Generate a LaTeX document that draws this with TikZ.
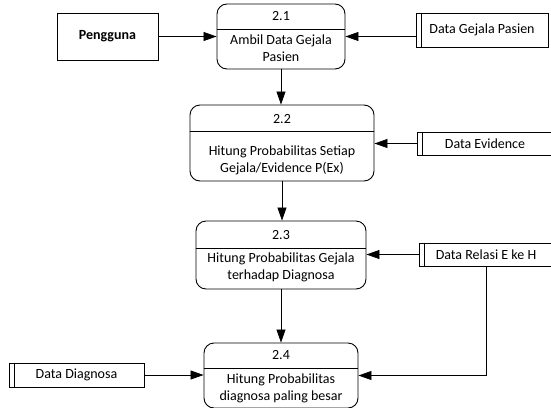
\documentclass[tikz,border=0pt]{standalone}
\usepackage{fontspec}
\setmainfont{Carlito}
\usetikzlibrary{arrows.meta}

\begin{document}
\begin{tikzpicture}[x=1pt, y=-1pt, font=\fontsize{14}{17}\selectfont,
    procbox/.style={draw, rounded corners=10pt, line width=0.9pt, inner sep=0pt},
    storebox/.style={draw, line width=0.9pt, inner sep=0pt},
    entitybox/.style={draw, line width=0.9pt, inner sep=0pt, font=\fontsize{14}{17}\selectfont\bfseries},
    flow/.style={line width=0.7pt, -{Triangle[length=13pt, width=9pt]}}]
    \useasboundingbox (0,0) rectangle (551,407);

    % external entity
    \node[entitybox, minimum width=101pt, minimum height=47pt] (pg) at (107.5,36.5) {Pengguna};

    % processes
    \node[procbox, minimum width=128pt, minimum height=65pt] (p1) at (281,36.5) {};
    \draw[line width=0.9pt] (p1.west |- 0,29) -- (p1.east |- 0,29);
    \node (n1) at (281,16.5) {2.1};
    \node[align=center] (t1) at (281,48) {Ambil Data Gejala\\Pasien};

    \node[procbox, minimum width=184pt, minimum height=76pt] (p2) at (282,143) {};
    \draw[line width=0.9pt] (p2.west |- 0,131) -- (p2.east |- 0,131);
    \node (n2) at (282,119) {2.2};
    \node[align=center] (t2) at (282,160) {Hitung Probabilitas Setiap\\Gejala/Evidence P(Ex)};

    \node[procbox, minimum width=170pt, minimum height=68pt] (p3) at (281,255) {};
    \draw[line width=0.9pt] (p3.west |- 0,248) -- (p3.east |- 0,248);
    \node (n3) at (281,235) {2.3};
    \node[align=center] (t3) at (281,267) {Hitung Probabilitas Gejala\\terhadap Diagnosa};

    \node[procbox, minimum width=154pt, minimum height=65pt] (p4) at (281,375.5) {};
    \draw[line width=0.9pt] (p4.west |- 0,368) -- (p4.east |- 0,368);
    \node (n4) at (281,355) {2.4};
    \node[align=center] (t4) at (281,388) {Hitung Probabilitas\\diagnosa paling besar};

    % data stores
    \node[storebox, minimum width=132pt, minimum height=34pt] (s1) at (482,30) {Data Gejala Pasien};
    \node[storebox, minimum width=136pt, minimum height=23pt] (s2) at (485,143.5) {Data Evidence};
    \node[storebox, minimum width=134pt, minimum height=23pt] (s3) at (486,254.5) {Data Relasi E ke H};
    \node[storebox, minimum width=135pt, minimum height=24pt] (s4) at (76.5,375) {Data Diagnosa};
    \foreach \s in {s1,s2,s3,s4}
        \draw[line width=0.9pt] ([xshift=6pt]\s.north west) -- ([xshift=6pt]\s.south west);

    % data flows
    \draw[flow] (pg) -- (p1);
    \draw[flow] (s1.west |- p1.east) -- (p1.east);
    \draw[flow] (p1.south) -- (p1.south |- p2.north);
    \draw[flow] (s2.west) -- (s2.west -| p2.east);
    \draw[flow] (p2.south) -- (p2.south |- p3.north);
    \draw[flow] (s3.west) -- (s3.west -| p3.east);
    \draw[flow] (p3.south) -- (p3.south |- p4.north);
    \draw[flow] (s4.east) -- (s4.east -| p4.west);
    \draw[flow] (s3.south) |- (p4.east);
\end{tikzpicture}
\end{document}
